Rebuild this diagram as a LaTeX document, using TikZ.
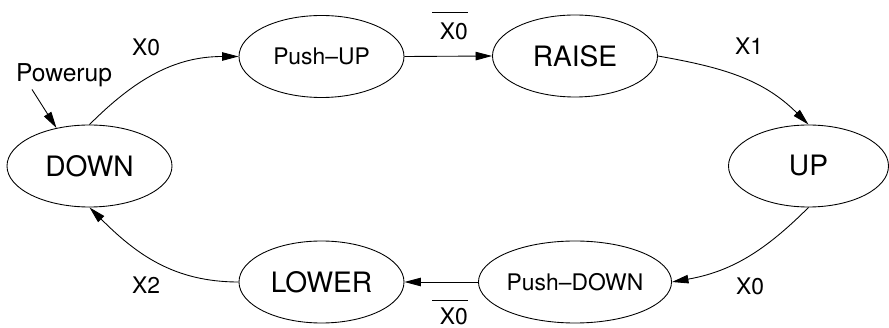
\documentclass[tikz,border=0pt]{standalone}
\usepackage{fontspec}
\setmainfont{TeX Gyre Heros}
\usetikzlibrary{arrows.meta,shapes.geometric}
\newcommand{\notsig}[2][0.5cm]{$\overline{\rule{0pt}{#1}\kern0.15cm\mbox{#2}}$}

\begin{document}
\begin{tikzpicture}[
    state/.style={draw, ellipse, line width=0.5pt, inner sep=0pt, minimum width=3.3cm, minimum height=1.64cm, font=\fontsize{16}{19}\selectfont},
    smallstate/.style={state, font=\fontsize{13}{16}\selectfont},
    lbl/.style={inner sep=1pt, font=\fontsize{13}{16}\selectfont},
    arr/.style={-{Triangle[length=0.33cm,width=0.17cm]}, line width=0.5pt}
]
    \useasboundingbox (0,0) rectangle (17.78,-6.56);

    % States
    \node[state] (down) at (1.79,-3.32) {DOWN};
    \node[smallstate] (pushup) at (6.43,-1.13) {Push--UP};
    \node[state] (raise) at (11.5,-1.12) {RAISE};
    \node[state, minimum width=3.2cm] (up) at (16.17,-3.32) {UP};
    \node[smallstate] (pushdown) at (11.5,-5.64) {Push--DOWN};
    \node[state] (lower) at (6.43,-5.64) {LOWER};

    % Transitions
    \draw[arr] (down.north) to[out=45, in=180] (pushup.west);
    \draw[arr] (pushup.east) -- (raise.west);
    \draw[arr] (raise.east) to[out=-10, in=135] (up.north);
    \draw[arr] (up.south) to[out=-135, in=10] (pushdown.east);
    \draw[arr] (pushdown.west) -- (lower.east);
    \draw[arr] (lower.west) to[out=180, in=-45] (down.south);

    % Labels
    \node[lbl] (x0a) at (2.92,-0.94) {X0};
    \node[lbl, anchor=base] (x0b) at (9.0,-0.79) {\notsig{X0}};
    \node[lbl] (x1) at (14.98,-0.92) {X1};
    \node[lbl] (x0c) at (15.0,-5.72) {X0};
    \node[lbl, inner sep=0pt, anchor=base] (x0d) at (9.0,-6.49) {\notsig[0.43cm]{X0}};
    \node[lbl] (x2) at (2.92,-5.70) {X2};

    % Power up
    \node[inner sep=1pt, anchor=base, font=\fontsize{14}{17}\selectfont] (powerup) at (1.28,-1.64) {Powerup};
    \draw[arr] ([xshift=-0.64cm]powerup.south) -- (down.131);
\end{tikzpicture}
\end{document}
